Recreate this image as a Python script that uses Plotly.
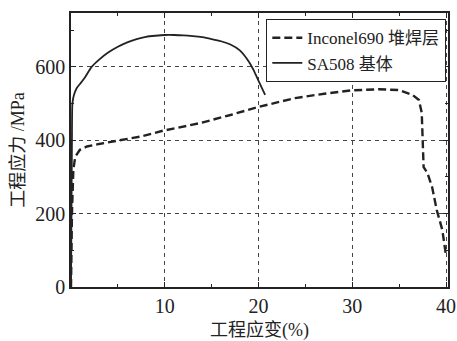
import plotly.graph_objects as go

# SA508 base metal (solid line)
sa508_strain = [0, 0.05, 0.1, 0.15, 0.3, 0.6, 1.0, 1.5, 2.2, 3, 4, 5, 6, 7, 8, 9, 10, 11, 12,
                13, 14, 15, 16, 17, 18, 19, 19.5, 20, 20.7]
sa508_stress = [0, 200, 400, 500, 522, 542, 555, 572, 600, 620, 640, 655, 667, 676, 682, 685, 687, 687, 686,
                684, 681, 676, 670, 661, 645, 613, 590, 562, 524]

# Inconel690 overlay (dashed line)
inc_strain = [0, 0.1, 0.25, 0.45, 0.95, 1.7, 3, 4.9, 7.4, 9.8, 13.8, 17, 20, 23.9, 27, 29.9, 32.8, 35,
              36.4, 37.1, 37.4, 37.5, 37.6, 38.0, 38.5, 39.0, 39.6, 40.0]
inc_stress = [0, 200, 320, 355, 374, 383, 390, 398, 410, 426, 447, 469, 491, 515, 527, 536, 539, 537,
              524, 510, 475, 401, 327, 311, 273, 210, 155, 83]

x_ticks = [10, 20, 30, 40]
y_ticks = [0, 200, 400, 600]

serif = "'Times New Roman', 'Liberation Serif', 'Noto Sans CJK SC', serif"
ink = "#222222"

fig = go.Figure()
fig.add_trace(go.Scatter(x=inc_strain, y=inc_stress, mode="lines",
                         name="Inconel690 堆焊层",
                         line=dict(color=ink, width=2.4, dash="8px,4px")))
fig.add_trace(go.Scatter(x=sa508_strain, y=sa508_stress, mode="lines",
                         name="SA508 基体",
                         line=dict(color=ink, width=1.8, shape="spline", smoothing=0.6)))

axis_common = dict(showline=True, linecolor=ink, linewidth=1.5, mirror="ticks",
                   ticks="inside", ticklen=5, tickcolor=ink, tickwidth=1.2,
                   showgrid=True, gridcolor="#444444", gridwidth=1, griddash="4px,4px",
                   zeroline=False, automargin=False,
                   tickfont=dict(family=serif, size=20, color=ink))

fig.update_xaxes(range=[0, 40.2], tickvals=x_ticks, ticktext=[str(v) for v in x_ticks],
                 title=dict(text="工程应变(%)", font=dict(family=serif, size=18, color=ink), standoff=10),
                 minor=dict(tickmode="linear", tick0=0, dtick=5, ticks="inside", ticklen=3,
                            tickcolor=ink, showgrid=False),
                 **axis_common)
fig.update_yaxes(range=[0, 747], tickvals=y_ticks, ticktext=[str(v) for v in y_ticks],
                 title=dict(text="工程应力 /MPa", font=dict(family=serif, size=18, color=ink), standoff=6),
                 minor=dict(tickmode="linear", tick0=0, dtick=100, ticks="inside", ticklen=3,
                            tickcolor=ink, showgrid=False),
                 **axis_common)

fig.update_layout(
    width=457, height=341,
    margin=dict(l=71, r=9, t=13, b=54),
    paper_bgcolor="white", plot_bgcolor="white",
    font=dict(family=serif, color=ink),
    showlegend=True,
    legend=dict(x=0.995, y=0.978, xanchor="right", yanchor="top",
                bgcolor="white", bordercolor=ink, borderwidth=1.2,
                font=dict(family=serif, size=17, color=ink),
                tracegroupgap=0, itemwidth=30),
)

fig.write_html("out.html")
